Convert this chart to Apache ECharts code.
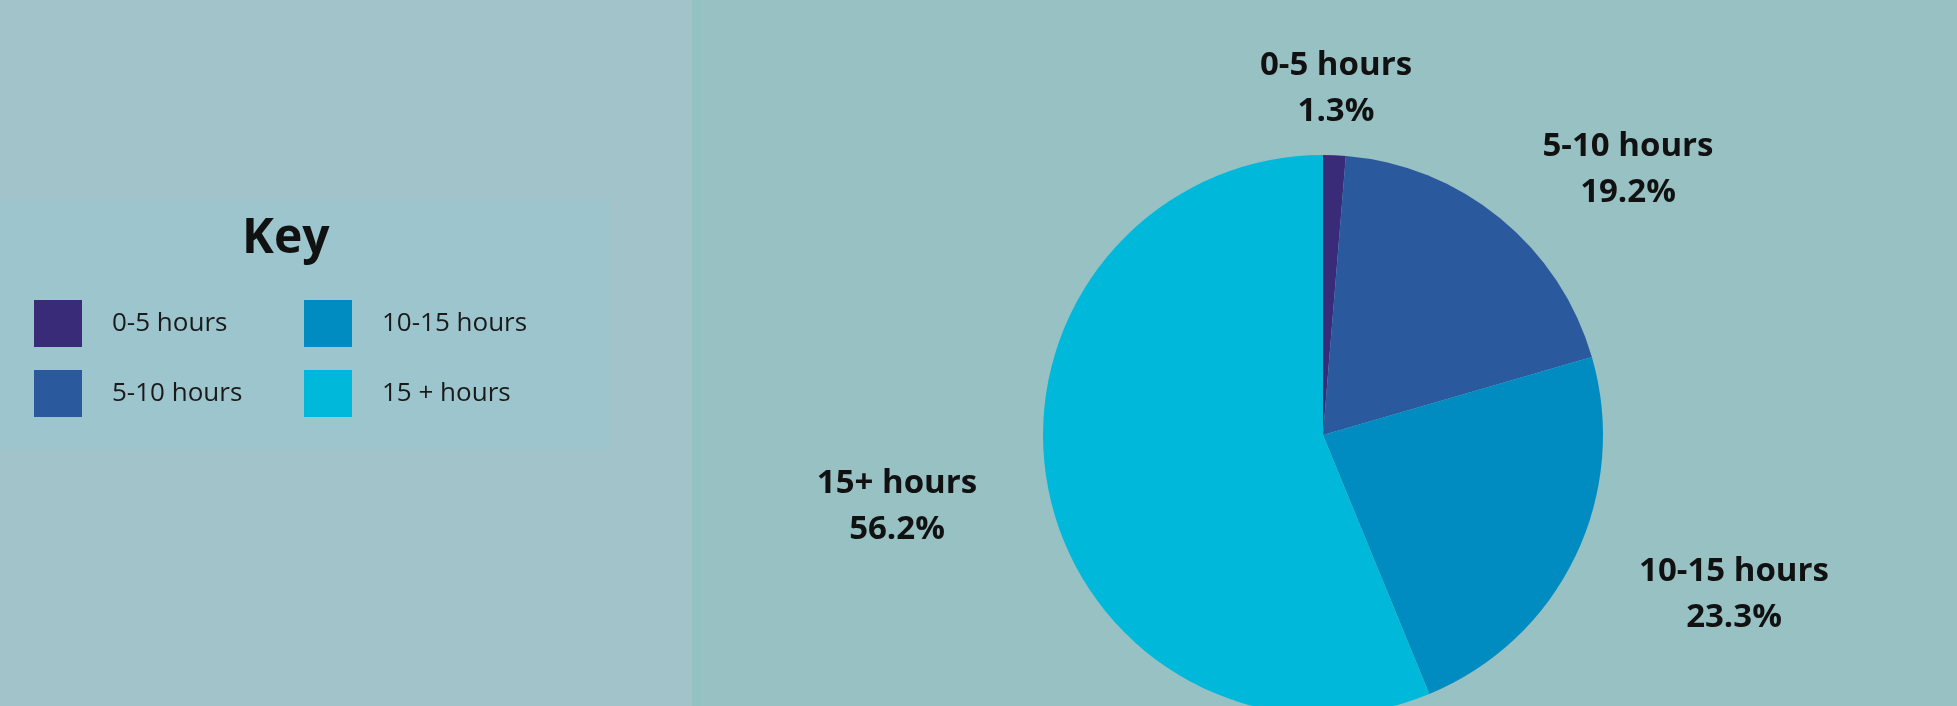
<!DOCTYPE html>
<html>
<head>
<meta charset="utf-8">
<script src="https://cdn.jsdelivr.net/npm/echarts@6/dist/echarts.min.js"></script>
<style>
  html, body { margin: 0; padding: 0; }
  #chart { width: 1957px; height: 706px; }
</style>
</head>
<body>
<div id="chart"></div>
<script>
// legend names and slice labels (the picture spells them slightly differently)
const categories = ['0-5 hours', '5-10 hours', '10-15 hours', '15 + hours']
const labelNames = ['0-5 hours', '5-10 hours', '10-15 hours', '15+ hours']
const percents = [1.3, 19.2, 23.3, 56.2]
const colors = ['#3a2b78', '#2a5a9d', '#008cc1', '#00b9da']

// where each slice label sits (centre of the two-line text)
const labelPos = [[1336, 89], [1628, 170], [1734, 595], [897, 507]]

const chart = echarts.init(document.getElementById('chart'))

// key is two columns of two
const keyLegend = (names, left) => ({
  orient: 'vertical',
  left: left,
  top: 300,
  padding: 0,
  itemWidth: 48,
  itemHeight: 47,
  itemGap: 23,
  icon: 'rect',
  selectedMode: false,
  data: names,
  textStyle: {
    fontFamily: 'Open Sans',
    fontSize: 26,
    color: '#1a1a1a',
    padding: [0, 0, 0, 25]
  }
})

chart.setOption({
  animation: false,
  backgroundColor: '#98c1c4',
  color: colors,
  graphic: [
    // left panel
    {type: 'rect', shape: {x: 0, y: 0, width: 692, height: 706}, style: {fill: '#a2c3c9'}, z: -10},
    {type: 'rect', shape: {x: 692, y: 0, width: 10, height: 706}, style: {fill: '#93c2c2'}, z: -10},
    // key box
    {type: 'rect', shape: {x: 0, y: 200, width: 610, height: 249}, style: {fill: '#9cc5cd'}, z: -9}
  ],
  title: {
    text: 'Key',
    left: 242,
    top: 215,
    padding: 0,
    textStyle: {
      fontFamily: 'Open Sans',
      fontWeight: 'bold',
      fontSize: 48,
      color: '#111'
    }
  },
  legend: [
    keyLegend(categories.slice(0, 2), 34),
    keyLegend(categories.slice(2), 304)
  ],
  series: [
    {
      type: 'pie',
      center: [1323, 435],
      radius: 280,
      startAngle: 90,
      clockwise: true,
      silent: true,
      emphasis: {disabled: true},
      labelLine: {show: false},
      label: {
        show: true,
        position: 'outside',
        formatter: p => labelNames[p.dataIndex] + '\n' + p.value.toFixed(1) + '%',
        fontFamily: 'Open Sans',
        fontWeight: 'bold',
        fontSize: 33,
        lineHeight: 46,
        color: '#111',
        align: 'center'
      },
      labelLayout: params => ({
        x: labelPos[params.dataIndex][0],
        y: labelPos[params.dataIndex][1],
        align: 'center',
        verticalAlign: 'middle'
      }),
      data: categories.map((name, i) => ({name: name, value: percents[i]}))
    }
  ]
})
</script>
</body>
</html>
